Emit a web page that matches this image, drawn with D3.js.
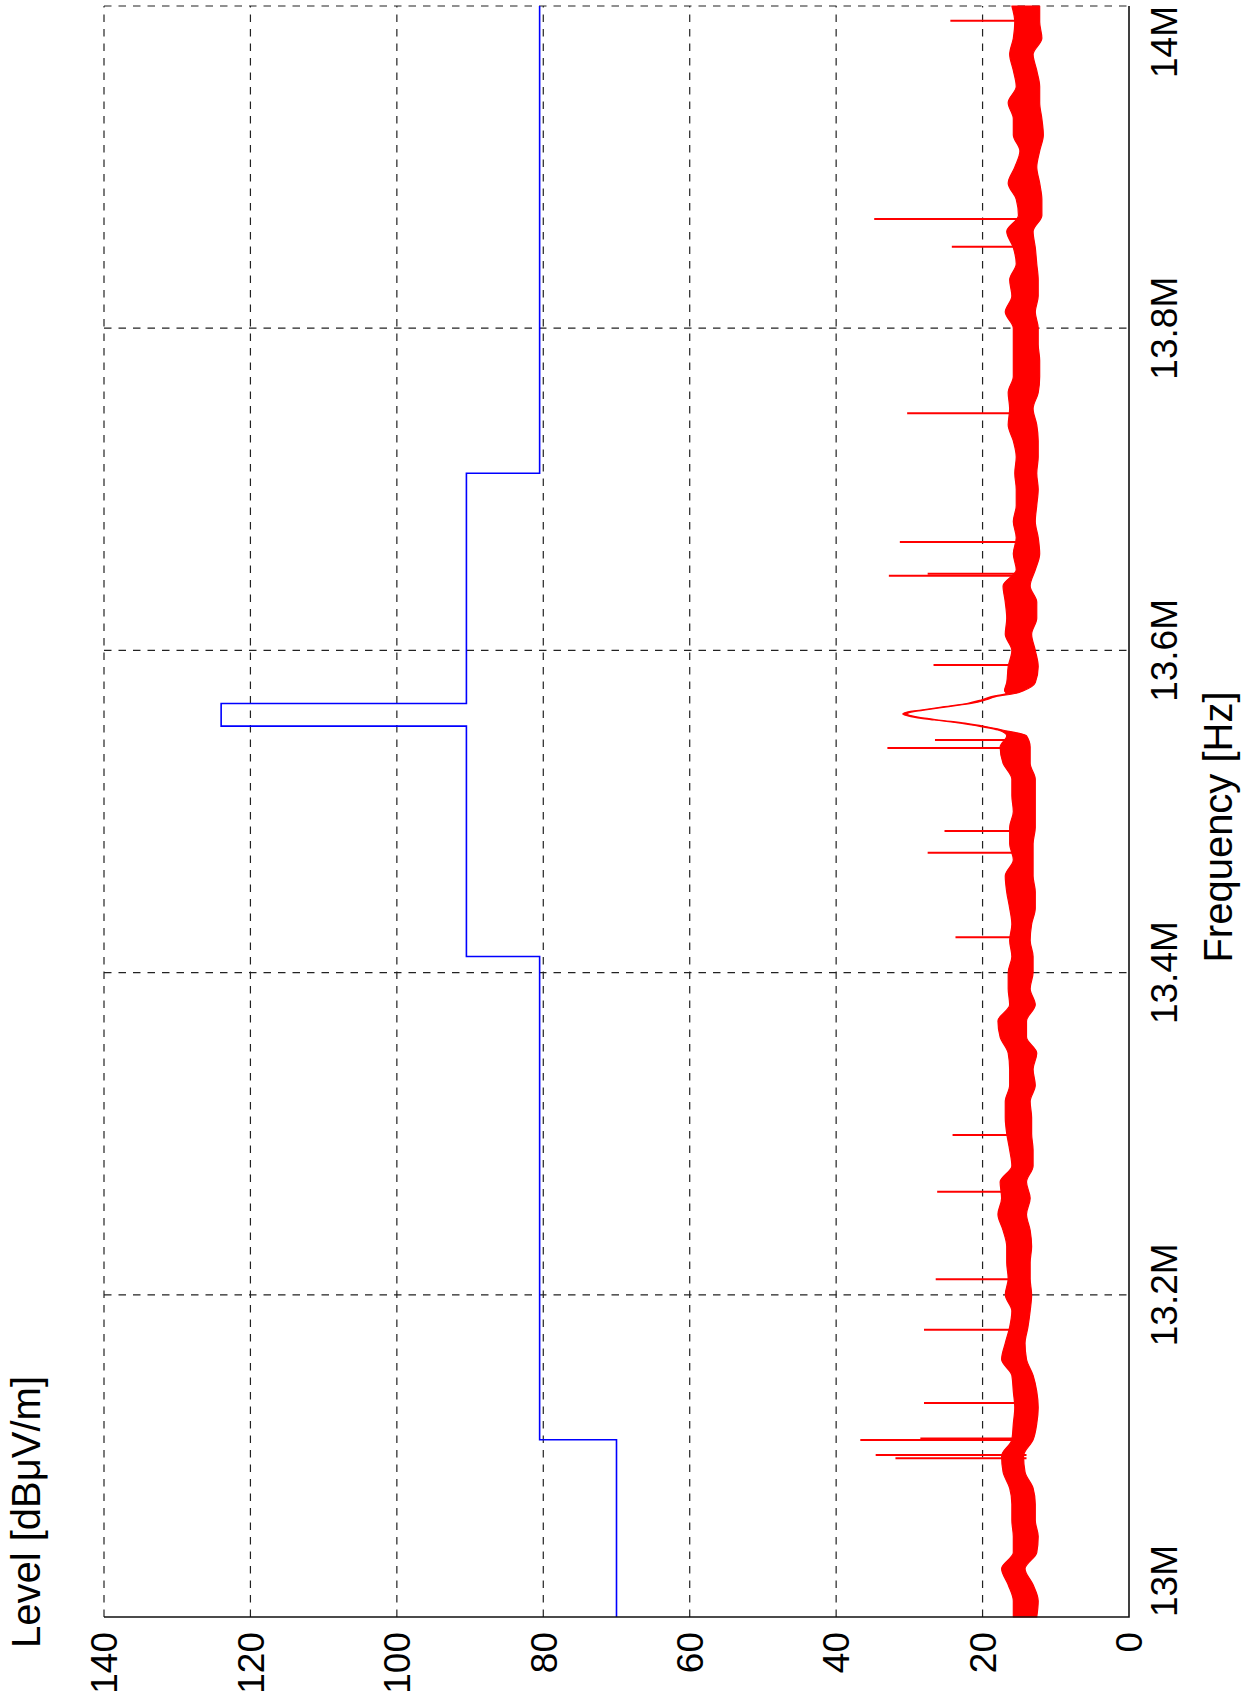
<!DOCTYPE html>
<html>
<head>
<meta charset="utf-8">
<script src="https://cdn.jsdelivr.net/npm/d3@7"></script>
<style>
  html, body { margin: 0; padding: 0; background: #fff; }
  svg { display: block; }
</style>
</head>
<body>
<svg id="chart" width="1242" height="1701"></svg>
<script>
// ---- axis ticks ----
const freqTicks = [13.0, 13.2, 13.4, 13.6, 13.8, 14.0];           // MHz
const freqTickLabels = ["13M", "13.2M", "13.4M", "13.6M", "13.8M", "14M"];
const levelTicks = [0, 20, 40, 60, 80, 100, 120, 140];           // dBµV/m

// ---- limit line (level holds from each breakpoint to the next) ----
const limitFreq  = [13.0, 13.11, 13.41, 13.553, 13.567, 13.71, 14.0];
const limitLevel = [70,   80.5,  90.5,  124,    90.5,   80.5,  80.5];

// ---- measured spectrum: noise floor envelope (min / max per frequency bin) ----
const traceFreq = [
  13.00, 13.01, 13.02, 13.03, 13.04, 13.05, 13.06, 13.07, 13.08, 13.09,
  13.10, 13.11, 13.12, 13.13, 13.14, 13.15, 13.16, 13.17, 13.18, 13.19,
  13.20, 13.21, 13.22, 13.23, 13.24, 13.25, 13.26, 13.27, 13.28, 13.29,
  13.30, 13.31, 13.32, 13.33, 13.34, 13.35, 13.36, 13.37, 13.38, 13.39,
  13.40, 13.41, 13.42, 13.43, 13.44, 13.45, 13.46, 13.47, 13.48, 13.49,
  13.50, 13.51, 13.52, 13.53, 13.54, 13.547,
  13.5506, 13.5527, 13.5548, 13.5568, 13.5589, 13.5605, 13.5620, 13.5630,
  13.5651, 13.5672, 13.5692, 13.5713, 13.5734, 13.575,
  13.58, 13.59, 13.60, 13.61, 13.62, 13.63,
  13.64, 13.65, 13.66, 13.67, 13.68, 13.69, 13.70, 13.71, 13.72, 13.73,
  13.74, 13.75, 13.76, 13.77, 13.78, 13.79, 13.80, 13.81, 13.82, 13.83,
  13.84, 13.85, 13.86, 13.87, 13.88, 13.89, 13.90, 13.91, 13.92, 13.93,
  13.94, 13.95, 13.96, 13.97, 13.98, 13.99, 14.00
];
const traceMax = [
  15.8, 15.8, 16.5, 17.4, 15.8, 15.8, 16.0, 16.0, 16.3, 17.2,
  17.4, 16.0, 15.8, 15.6, 15.8, 16.0, 17.4, 16.9, 16.3, 16.0,
  16.9, 16.5, 16.7, 16.7, 17.2, 17.9, 17.4, 17.6, 16.0, 16.3,
  16.7, 16.9, 16.9, 16.3, 16.3, 16.5, 17.6, 17.9, 16.3, 16.5,
  16.5, 16.0, 16.3, 16.0, 16.3, 16.7, 16.9, 15.8, 16.3, 16.3,
  15.8, 16.0, 16.0, 17.2, 17.6, 16.7,
  17.9, 20.2, 23.0, 26.6, 29.8, 30.9, 30.0, 28.4,
  25.2, 22.0, 20.2, 18.8, 16.8, 17.0,
  16.7, 16.5, 16.0, 16.9, 16.7, 16.9,
  17.2, 15.4, 15.8, 15.4, 15.8, 15.4, 15.4, 15.6, 15.4, 15.8,
  16.5, 16.3, 16.5, 15.8, 15.8, 15.8, 15.8, 16.9, 16.0, 16.3,
  15.4, 15.8, 16.7, 15.1, 15.4, 16.5, 15.6, 14.9, 15.8, 15.8,
  16.5, 15.4, 15.8, 16.3, 15.8, 15.6, 16.0
];
const traceMin = [
  12.6, 12.4, 13.1, 14.2, 12.6, 12.4, 12.8, 12.8, 13.1, 14.2,
  14.4, 13.1, 12.6, 12.4, 12.6, 13.1, 14.0, 14.2, 13.8, 13.5,
  13.3, 13.5, 13.5, 13.3, 13.5, 14.0, 13.5, 14.0, 13.1, 13.1,
  13.3, 13.3, 13.5, 12.8, 13.1, 12.6, 14.0, 14.0, 12.8, 13.5,
  13.1, 13.1, 13.5, 13.3, 12.8, 12.8, 13.1, 13.1, 13.1, 12.8,
  12.8, 12.8, 12.8, 13.5, 13.5, 14.0,
  17.3, 19.6, 22.4, 26.0, 29.2, 30.3, 29.4, 27.8,
  24.6, 21.4, 19.6, 18.2, 15.4, 14.4,
  12.8, 12.4, 12.8, 13.3, 12.6, 12.6,
  13.5, 12.8, 12.2, 12.4, 12.8, 12.6, 12.4, 12.6, 12.4, 12.4,
  12.6, 13.1, 12.4, 12.2, 12.2, 12.4, 12.4, 12.8, 12.4, 12.4,
  12.6, 12.8, 13.1, 11.9, 11.9, 12.2, 12.6, 12.2, 11.7, 11.9,
  12.2, 12.2, 12.6, 13.1, 11.9, 12.2, 12.2
];

// ---- narrowband spurs above the noise floor ----
const spurFreq  = [13.0985, 13.1006, 13.1099, 13.1108, 13.1328, 13.1783, 13.2096, 13.2640,
                   13.2992, 13.4219, 13.4744, 13.4879, 13.5394, 13.5444, 13.5909, 13.6464,
                   13.6476, 13.6673, 13.7472, 13.8506, 13.8678, 13.9909];
const spurLevel = [31.9, 34.6, 36.7, 28.5, 28.0, 28.0, 26.4, 26.2,
                   24.1, 23.7, 27.5, 25.2, 33.0, 26.5, 26.7, 32.8,
                   27.5, 31.3, 30.3, 24.2, 34.8, 24.4];

// ---- layout (landscape page, turned a quarter counter-clockwise) ----
const pageW = 1701;
const plot = { left: 84, right: 1695, top: 104, bottom: 1129 };
const FONT = "'Liberation Sans', Arial, Helvetica, sans-serif";
const TICK_FS = 37;
const TITLE_FS = 40;

const svg = d3.select("#chart");
svg.append("rect").attr("width", 1242).attr("height", 1701).attr("fill", "#fff");

const page = svg.append("g")
  .attr("transform", `translate(0,${pageW}) rotate(-90)`);

const x = d3.scaleLinear().domain([13, 14]).range([plot.left, plot.right]);
const y = d3.scaleLinear().domain([0, 140]).range([plot.bottom, plot.top]);

// grid
const grid = page.append("g")
  .attr("stroke", "#222")
  .attr("stroke-width", 1.2)
  .attr("stroke-dasharray", "7.5,7");
grid.selectAll(".gx").data(freqTicks.filter(t => t > 13))
  .join("line")
  .attr("x1", d => x(d)).attr("x2", d => x(d))
  .attr("y1", plot.top).attr("y2", plot.bottom);
grid.selectAll(".gy").data(levelTicks.filter(t => t > 0))
  .join("line")
  .attr("x1", plot.left).attr("x2", plot.right)
  .attr("y1", d => y(d)).attr("y2", d => y(d));

// limit line
const limitPts = limitFreq.map((f, i) => [f, limitLevel[i]]);
page.append("path")
  .datum(limitPts)
  .attr("fill", "none")
  .attr("stroke", "#0000ff")
  .attr("stroke-width", 1.6)
  .attr("d", d3.line().x(d => x(d[0])).y(d => y(d[1])).curve(d3.curveStepAfter));

// measured spectrum
const trace = traceFreq.map((f, i) => ({ f, lo: traceMin[i], hi: traceMax[i] }));
page.append("path")
  .datum(trace)
  .attr("fill", "#ff0000")
  .attr("stroke", "#ff0000")
  .attr("stroke-width", 1.2)
  .attr("stroke-linejoin", "round")
  .attr("d", d3.area().x(d => x(d.f)).y0(d => y(d.lo)).y1(d => y(d.hi)).curve(d3.curveMonotoneX));

page.append("g")
  .attr("stroke", "#ff0000")
  .attr("stroke-width", 2)
  .selectAll("line")
  .data(spurFreq.map((f, i) => [f, spurLevel[i]]))
  .join("line")
  .attr("x1", d => x(d[0])).attr("x2", d => x(d[0]))
  .attr("y1", y(14)).attr("y2", d => y(d[1]));

// axis lines
page.append("path")
  .attr("fill", "none")
  .attr("stroke", "#111")
  .attr("stroke-width", 1.6)
  .attr("d", `M${plot.left},${plot.top}V${plot.bottom}H${plot.right}`);

// tick labels
page.append("g")
  .attr("font-family", FONT).attr("font-size", TICK_FS).attr("fill", "#000")
  .selectAll("text").data(levelTicks)
  .join("text")
  .attr("x", plot.left - 15)
  .attr("y", d => y(d))
  .attr("dy", "0.36em")
  .attr("text-anchor", "end")
  .text(d => d);

page.append("g")
  .attr("font-family", FONT).attr("font-size", TICK_FS).attr("fill", "#000")
  .selectAll("text").data(freqTicks)
  .join("text")
  .attr("x", d => x(d))
  .attr("y", plot.bottom + 48)
  .attr("text-anchor", (d, i) => i === 0 ? "start" : (i === freqTicks.length - 1 ? "end" : "middle"))
  .text((d, i) => freqTickLabels[i]);

// axis titles
page.append("text")
  .attr("font-family", FONT).attr("font-size", TITLE_FS)
  .attr("x", 53).attr("y", 40)
  .attr("text-anchor", "start")
  .text("Level [dBμV/m]");

page.append("text")
  .attr("font-family", FONT).attr("font-size", TITLE_FS)
  .attr("x", 874).attr("y", 1232)
  .attr("text-anchor", "middle")
  .text("Frequency [Hz]");
</script>
</body>
</html>
